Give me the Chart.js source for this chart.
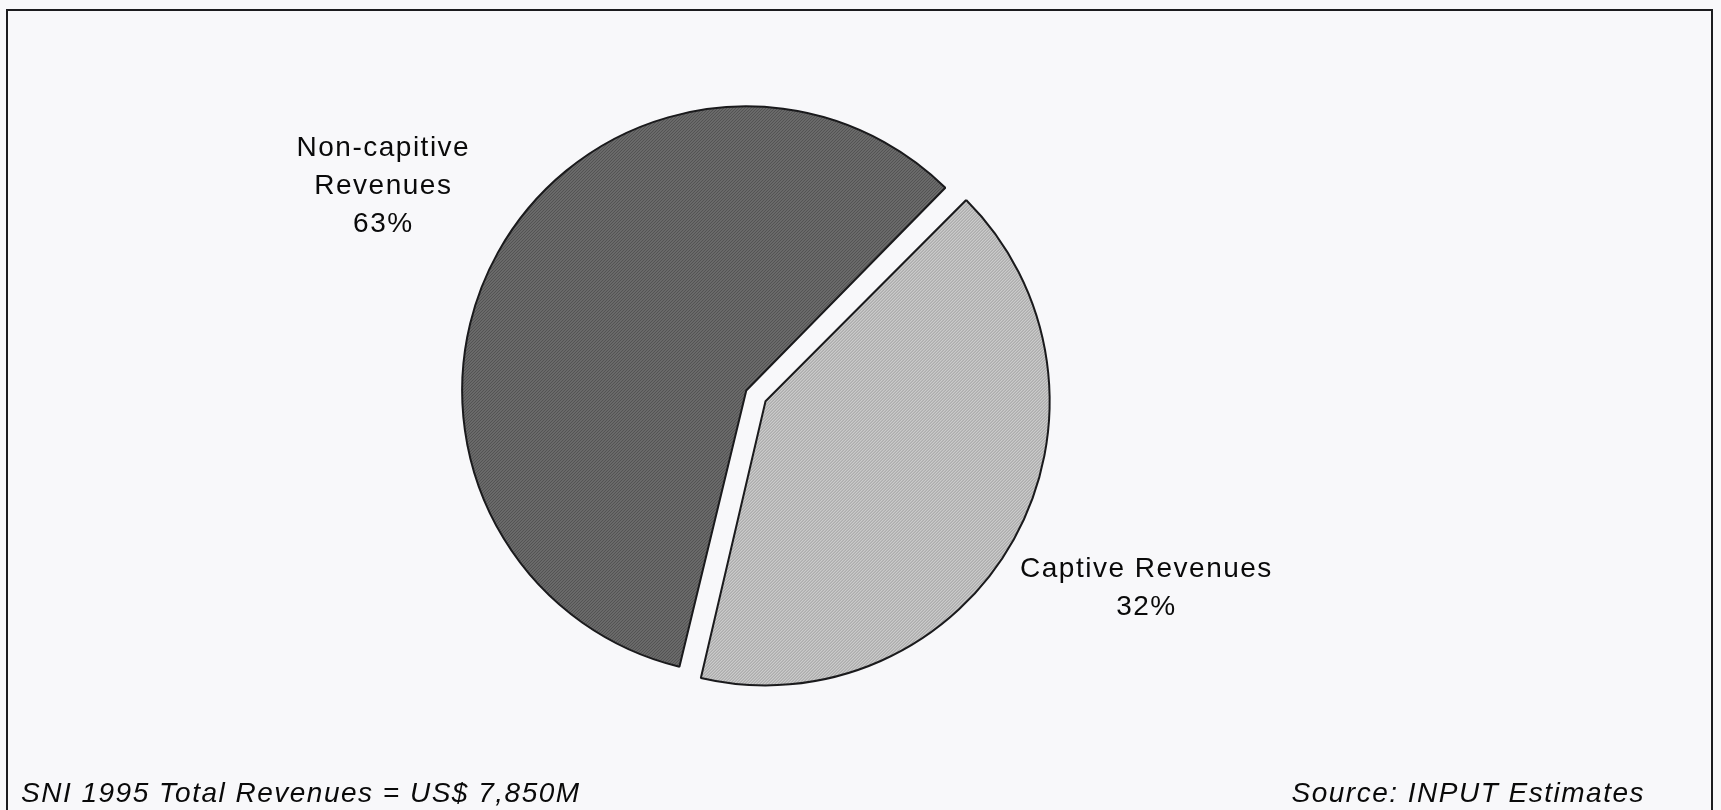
<!DOCTYPE html>
<html>
<head>
<meta charset="utf-8">
<title>SNI 1995 Revenues</title>
<script src="https://cdn.jsdelivr.net/npm/chart.js@4.4.1/dist/chart.umd.min.js"></script>
<style>
  html, body { margin: 0; padding: 0; background: #f8f8fa; overflow: hidden; }
  #wrap { position: absolute; left: 0; top: 0; width: 1721px; height: 810px; }
  #frame {
    position: absolute; left: 6px; top: 9px; width: 1703px; height: 900px;
    border: 2px solid #1c1c1f; border-bottom: none; pointer-events: none;
  }
  .note {
    position: absolute; top: 777px; line-height: 27px;
    font: italic 28px "Liberation Sans", Arial, sans-serif;
    letter-spacing: 1.5px; color: #0a0a0a; white-space: nowrap;
  }
  #noteLeft { left: 21px; }
  #noteRight { right: 76px; }
</style>
</head>
<body>
<div id="wrap"><canvas id="pieChart"></canvas></div>
<div id="frame"></div>
<div class="note" id="noteLeft">SNI 1995 Total Revenues = US$ 7,850M</div>
<div class="note" id="noteRight">Source: INPUT Estimates</div>
<script>
// slice order follows the drawing, clockwise from the upper right cut
const sliceNames = ['Captive Revenues', 'Non-capitive Revenues'];
const sliceShares = [41.3, 58.7];          // share of the circle as drawn
const shareLabels = ['32%', '63%'];        // percentages printed on the chart
const labelLines = [['Captive Revenues'], ['Non-capitive', 'Revenues']];

function hatch(base, line) {
  const c = document.createElement('canvas');
  c.width = 3; c.height = 3;
  const g = c.getContext('2d');
  g.fillStyle = base;
  g.fillRect(0, 0, 3, 3);
  g.fillStyle = line;
  g.fillRect(0, 2, 1, 1);
  g.fillRect(1, 1, 1, 1);
  g.fillRect(2, 0, 1, 1);
  return g.createPattern(c, 'repeat');
}

// labels sit outside each slice, near the bisector
const labelTurn = [-2.8, 0.3];     // degrees off the bisector
const labelReach = [1.532, 1.503]; // distance in radii

const sliceLabels = {
  id: 'sliceLabels',
  afterDatasetsDraw(chart) {
    const ctx = chart.ctx;
    const meta = chart.getDatasetMeta(0);
    ctx.save();
    ctx.font = '28px "Liberation Sans", Arial, sans-serif';
    ctx.letterSpacing = '1.5px';
    ctx.fillStyle = '#0a0a0a';
    ctx.textAlign = 'center';
    ctx.textBaseline = 'middle';
    meta.data.forEach((arc, i) => {
      const p = arc.getProps(['x', 'y', 'startAngle', 'endAngle', 'outerRadius']);
      const mid = (p.startAngle + p.endAngle) / 2 + labelTurn[i] * Math.PI / 180;
      const shift = (arc.options.offset || 0) / 4;
      const dist = shift + p.outerRadius * labelReach[i];
      const cx = p.x + Math.cos(mid) * dist;
      const cy = p.y + Math.sin(mid) * dist;
      const lines = labelLines[i].concat([shareLabels[i]]);
      const lh = 38;
      lines.forEach((t, k) => {
        ctx.fillText(t, cx, cy + (k - (lines.length - 1) / 2) * lh);
      });
    });
    ctx.restore();
  }
};

new Chart(document.getElementById('pieChart'), {
  type: 'pie',
  data: {
    labels: sliceNames,
    datasets: [{
      data: sliceShares,
      backgroundColor: [hatch('#adadad', '#d9d9d9'), hatch('#4f4f4f', '#8a8a8a')],
      borderColor: '#1a1a1c',
      borderWidth: 2,
      offset: [59.5, 28.5]
    }]
  },
  options: {
    responsive: true,
    maintainAspectRatio: false,
    animation: false,
    rotation: 44.7,
    radius: 277,
    layout: { padding: { left: 0, right: 216, top: 0, bottom: 22 } },
    plugins: {
      legend: { display: false },
      tooltip: { enabled: false }
    }
  },
  plugins: [sliceLabels]
});
</script>
</body>
</html>
